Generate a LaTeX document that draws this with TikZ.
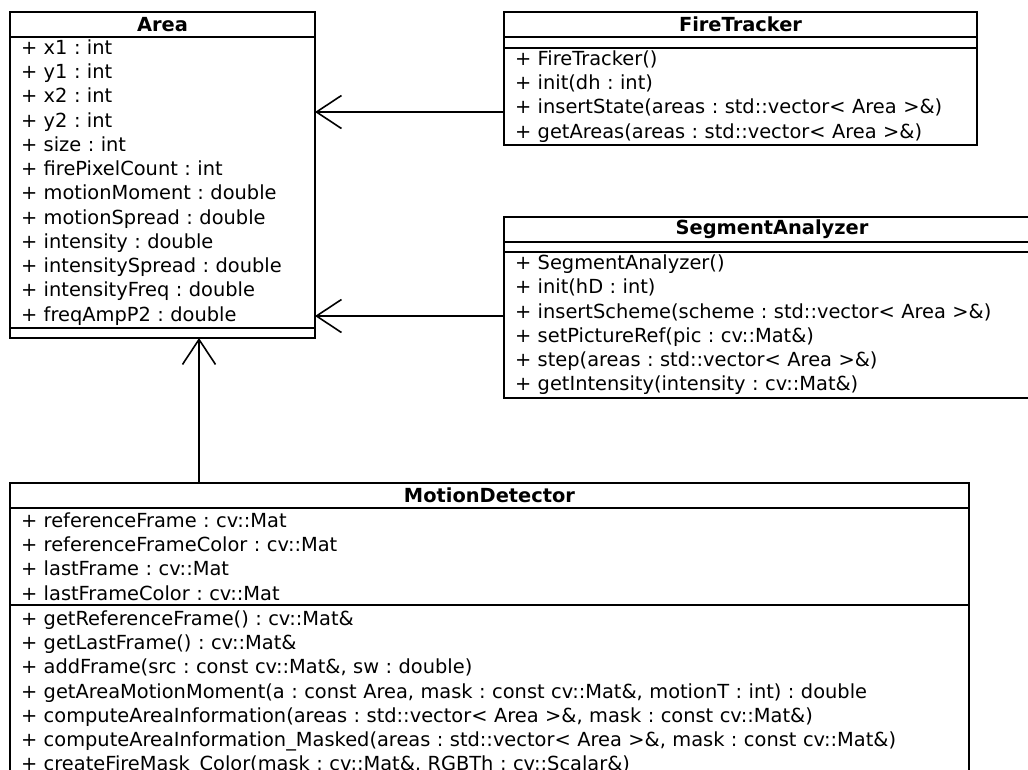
\documentclass[tikz,border=0pt]{standalone}
\usepackage{fontspec}
\setmainfont{DejaVu Sans}
\usetikzlibrary{positioning,arrows.meta}

\tikzset{
  classhead/.style={draw, line width=1.8pt, outer sep=0pt, anchor=north west,
    inner sep=0pt, minimum height=25pt, font=\fontsize{19.4}{24.25}\selectfont\bfseries},
  classpart/.style={draw, line width=1.8pt, outer sep=0pt, inner xsep=11pt,
    inner ysep=0pt, align=left, font=\fontsize{19.4}{24.25}\selectfont},
  assoc/.style={line width=1.6pt, -{Straight Barb[length=25pt, width=33pt, line width=1.6pt]}}
}
\frenchspacing

\begin{document}
\begin{tikzpicture}[x=1pt, y=-1pt]
	\useasboundingbox (0,0) rectangle (1028,769);
	\clip (0,0) rectangle (1028,769);
	
	% Area
	\node[classhead, minimum width=305pt] (area) at (10,12) {Area};
	\node[classpart, text width=283pt, minimum height=291pt, below=0pt of area] (areaattr)
		{+ x1 : int\\+ y1 : int\\+ x2 : int\\+ y2 : int\\+ size : int\\+ firePixelCount : int\\
		 + motionMoment : double\\+ motionSpread : double\\+ intensity : double\\
		 + intensitySpread : double\\+ intensityFreq : double\\+ freqAmpP2 : double};
	\node[classpart, text width=283pt, minimum height=10pt, below=0pt of areaattr] (areaop) {};
	
	% FireTracker
	\node[classhead, minimum width=473pt] (tracker) at (504,12) {FireTracker};
	\node[classpart, text width=451pt, minimum height=11pt, below=0pt of tracker] (trackerattr) {};
	\node[classpart, text width=451pt, minimum height=97pt, below=0pt of trackerattr] (trackerop)
		{+ FireTracker()\\+ init(dh : int)\\+ insertState(areas : std::vector< Area >\&)\\
		 + getAreas(areas : std::vector< Area >\&)};
	
	% SegmentAnalyzer
	\node[classhead, minimum width=536pt] (segment) at (504,217) {SegmentAnalyzer};
	\node[classpart, text width=514pt, minimum height=10pt, below=0pt of segment] (segmentattr) {};
	\node[classpart, text width=514pt, minimum height=146pt, below=0pt of segmentattr] (segmentop)
		{+ SegmentAnalyzer()\\+ init(hD : int)\\+ insertScheme(scheme : std::vector< Area >\&)\\
		 + setPictureRef(pic : cv::Mat\&)\\+ step(areas : std::vector< Area >\&)\\
		 + getIntensity(intensity : cv::Mat\&)};
	
	% MotionDetector
	\node[classhead, minimum width=959pt] (motion) at (10,483) {MotionDetector};
	\node[classpart, text width=937pt, minimum height=97pt, below=0pt of motion] (motionattr)
		{+ referenceFrame : cv::Mat\\+ referenceFrameColor : cv::Mat\\+ lastFrame : cv::Mat\\
		 + lastFrameColor : cv::Mat};
	\node[classpart, text width=937pt, minimum height=176pt, below=0pt of motionattr] (motionop)
		{+ getReferenceFrame() : cv::Mat\&\\+ getLastFrame() : cv::Mat\&\\
		 + addFrame(src : const cv::Mat\&, sw : double)\\
		 + getAreaMotionMoment(a : const Area, mask : const cv::Mat\&, motionT : int) : double\\
		 + computeAreaInformation(areas : std::vector< Area >\&, mask : const cv::Mat\&)\\
		 + computeAreaInformation\_Masked(areas : std::vector< Area >\&, mask : const cv::Mat\&)\\
		 + createFireMask\_Color(mask : cv::Mat\&, RGBTh : cv::Scalar\&)};
	
	% associations
	\coordinate (trackerin) at ([yshift=33pt]trackerop.south west);
	\coordinate (segmentin) at ([yshift=82pt]segmentop.south west);
	\coordinate (motionout) at ([xshift=189pt]motion.north west);
	\draw[assoc] (trackerin) -- (trackerin -| areaattr.east);
	\draw[assoc] (segmentin) -- (segmentin -| areaattr.east);
	\draw[assoc] (motionout) -- (motionout |- areaop.south);
\end{tikzpicture}
\end{document}
